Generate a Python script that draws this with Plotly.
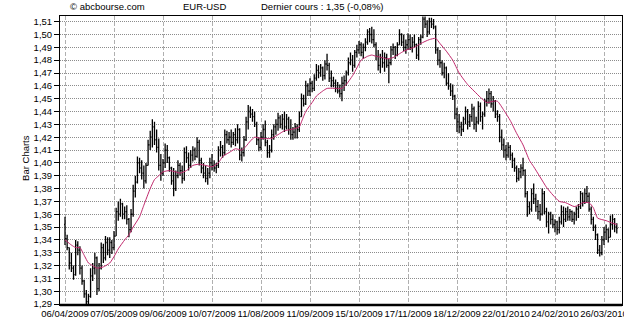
import plotly.graph_objects as go

# ---------------- data (EUR-USD daily bars, index = trading day) ----------------
DATE_TICKS = [0, 23, 46, 69, 92, 115, 138, 161, 184, 207, 230, 253]
DATE_LABELS = ["06/04/2009", "07/05/2009", "09/06/2009", "10/07/2009", "11/08/2009",
               "11/09/2009", "15/10/2009", "17/11/2009", "18/12/2009", "22/01/2010",
               "24/02/2010", "26/03/2010"]
Y_TICKS = [1.29, 1.30, 1.31, 1.32, 1.33, 1.34, 1.35, 1.36, 1.37, 1.38, 1.39, 1.40,
           1.41, 1.42, 1.43, 1.44, 1.45, 1.46, 1.47, 1.48, 1.49, 1.50, 1.51]
Y_LABELS = ["1,29", "1,30", "1,31", "1,32", "1,33", "1,34", "1,35", "1,36", "1,37", "1,38",
            "1,39", "1,40", "1,41", "1,42", "1,43", "1,44", "1,45", "1,46", "1,47", "1,48",
            "1,49", "1,50", "1,51"]

OPEN = [
    1.352,1.341,1.334,1.322,1.318,1.313,1.336,1.332,1.318,1.308,
    1.298,1.292,1.296,1.312,1.318,1.326,1.302,1.318,1.334,1.326,
    1.338,1.332,1.338,1.334,1.343,1.362,1.360,1.368,1.360,1.362,
    1.356,1.348,1.360,1.378,1.385,1.400,1.396,1.392,1.386,1.398,
    1.414,1.420,1.428,1.418,1.412,1.398,1.392,1.400,1.410,1.404,
    1.396,1.386,1.380,1.390,1.398,1.394,1.388,1.408,1.404,1.398,
    1.406,1.410,1.405,1.416,1.402,1.396,1.392,1.388,1.392,1.400,
    1.398,1.396,1.398,1.410,1.412,1.408,1.422,1.418,1.420,1.416,
    1.422,1.418,1.426,1.406,1.408,1.418,1.432,1.440,1.438,1.436,
    1.430,1.418,1.412,1.420,1.426,1.416,1.408,1.410,1.422,1.428,
    1.430,1.435,1.430,1.434,1.428,1.434,1.426,1.422,1.424,1.428,
    1.426,1.436,1.450,1.446,1.460,1.456,1.462,1.458,1.466,1.472,
    1.470,1.474,1.468,1.477,1.476,1.466,1.464,1.462,1.458,1.456,
    1.454,1.462,1.464,1.470,1.478,1.480,1.476,1.486,1.488,1.492,
    1.486,1.490,1.494,1.502,1.500,1.496,1.492,1.483,1.476,1.482,
    1.478,1.482,1.476,1.478,1.488,1.490,1.484,1.492,1.500,1.494,
    1.490,1.492,1.496,1.490,1.494,1.492,1.484,1.496,1.498,1.512,
    1.508,1.502,1.510,1.508,1.506,1.488,1.480,1.478,1.470,1.474,
    1.462,1.460,1.456,1.452,1.438,1.432,1.428,1.426,1.434,1.440,
    1.432,1.436,1.442,1.430,1.432,1.444,1.436,1.438,1.448,1.450,
    1.454,1.446,1.448,1.438,1.436,1.420,1.414,1.410,1.406,1.412,
    1.406,1.402,1.396,1.388,1.393,1.396,1.394,1.376,1.366,1.364,
    1.376,1.372,1.366,1.362,1.360,1.376,1.362,1.354,1.360,1.356,
    1.352,1.354,1.348,1.354,1.362,1.356,1.362,1.358,1.362,1.356,
    1.360,1.364,1.366,1.376,1.370,1.376,1.374,1.364,1.356,1.350,
    1.344,1.332,1.330,1.340,1.346,1.348,1.342,1.352,1.356,1.350,
]
HIGH = [
    1.358,1.344,1.334,1.330,1.320,1.340,1.339,1.335,1.320,1.309,
    1.301,1.298,1.318,1.322,1.330,1.327,1.322,1.338,1.337,1.343,
    1.342,1.342,1.340,1.347,1.365,1.370,1.372,1.369,1.366,1.367,
    1.357,1.364,1.383,1.390,1.405,1.404,1.402,1.398,1.400,1.418,
    1.425,1.434,1.432,1.426,1.419,1.407,1.403,1.415,1.414,1.405,
    1.397,1.396,1.394,1.402,1.400,1.398,1.412,1.413,1.408,1.410,
    1.413,1.412,1.420,1.418,1.404,1.400,1.398,1.396,1.404,1.407,
    1.402,1.400,1.413,1.417,1.414,1.426,1.425,1.424,1.426,1.424,
    1.427,1.430,1.427,1.412,1.421,1.436,1.445,1.444,1.442,1.440,
    1.432,1.420,1.424,1.430,1.433,1.418,1.414,1.426,1.430,1.434,
    1.439,1.437,1.438,1.440,1.438,1.436,1.434,1.428,1.431,1.430,
    1.440,1.454,1.453,1.464,1.462,1.466,1.464,1.469,1.477,1.476,
    1.477,1.475,1.480,1.485,1.478,1.472,1.467,1.465,1.463,1.461,
    1.467,1.468,1.472,1.482,1.486,1.484,1.488,1.492,1.495,1.494,
    1.493,1.497,1.504,1.505,1.506,1.504,1.494,1.488,1.485,1.488,
    1.486,1.485,1.481,1.491,1.493,1.491,1.494,1.504,1.501,1.500,
    1.496,1.501,1.500,1.498,1.500,1.493,1.498,1.500,1.514,1.514,
    1.511,1.513,1.513,1.512,1.507,1.490,1.488,1.480,1.478,1.475,
    1.470,1.462,1.461,1.453,1.443,1.438,1.432,1.436,1.444,1.442,
    1.438,1.446,1.444,1.436,1.448,1.447,1.440,1.450,1.456,1.458,
    1.456,1.452,1.449,1.441,1.438,1.426,1.419,1.414,1.416,1.414,
    1.408,1.404,1.398,1.396,1.399,1.404,1.395,1.378,1.370,1.380,
    1.384,1.376,1.371,1.368,1.380,1.378,1.365,1.362,1.362,1.360,
    1.356,1.355,1.358,1.367,1.366,1.365,1.366,1.364,1.363,1.362,
    1.366,1.368,1.378,1.377,1.380,1.382,1.377,1.366,1.358,1.352,
    1.345,1.336,1.343,1.350,1.352,1.349,1.359,1.360,1.357,1.353,
]
LOW = [
    1.336,1.332,1.317,1.315,1.309,1.312,1.328,1.313,1.305,1.295,
    1.289,1.289,1.295,1.308,1.313,1.297,1.300,1.317,1.322,1.324,
    1.328,1.326,1.329,1.332,1.343,1.355,1.358,1.356,1.356,1.352,
    1.342,1.346,1.358,1.373,1.384,1.392,1.387,1.380,1.384,1.398,
    1.410,1.412,1.414,1.408,1.394,1.386,1.390,1.396,1.400,1.393,
    1.383,1.374,1.378,1.388,1.390,1.384,1.386,1.400,1.394,1.396,
    1.401,1.402,1.404,1.398,1.392,1.388,1.385,1.383,1.388,1.394,
    1.393,1.392,1.396,1.405,1.404,1.406,1.415,1.414,1.412,1.414,
    1.413,1.415,1.402,1.401,1.405,1.417,1.426,1.435,1.432,1.428,
    1.414,1.409,1.410,1.418,1.413,1.404,1.404,1.408,1.418,1.422,
    1.425,1.427,1.426,1.424,1.426,1.422,1.418,1.418,1.419,1.419,
    1.424,1.436,1.444,1.445,1.452,1.452,1.455,1.456,1.464,1.466,
    1.467,1.464,1.465,1.472,1.463,1.459,1.459,1.455,1.454,1.451,
    1.448,1.456,1.460,1.468,1.476,1.471,1.474,1.482,1.485,1.483,
    1.481,1.487,1.492,1.494,1.493,1.490,1.480,1.472,1.470,1.474,
    1.471,1.474,1.462,1.476,1.484,1.481,1.483,1.492,1.491,1.487,
    1.485,1.488,1.488,1.486,1.490,1.481,1.480,1.492,1.497,1.505,
    1.498,1.500,1.505,1.504,1.485,1.476,1.474,1.468,1.466,1.460,
    1.457,1.452,1.449,1.434,1.424,1.423,1.421,1.424,1.430,1.426,
    1.428,1.432,1.426,1.424,1.430,1.432,1.426,1.436,1.444,1.446,
    1.443,1.440,1.435,1.432,1.416,1.410,1.404,1.402,1.404,1.402,
    1.396,1.393,1.385,1.386,1.388,1.390,1.373,1.358,1.360,1.362,
    1.368,1.362,1.356,1.355,1.359,1.360,1.350,1.345,1.352,1.349,
    1.346,1.344,1.345,1.352,1.350,1.354,1.355,1.355,1.354,1.352,
    1.355,1.357,1.364,1.366,1.368,1.369,1.362,1.352,1.347,1.340,
    1.329,1.327,1.328,1.336,1.340,1.338,1.342,1.348,1.346,1.345,
]
CLOSE = [
    1.341,1.334,1.322,1.318,1.313,1.336,1.332,1.318,1.308,1.298,
    1.292,1.296,1.312,1.318,1.326,1.302,1.318,1.334,1.326,1.338,
    1.332,1.338,1.334,1.343,1.362,1.360,1.368,1.360,1.362,1.356,
    1.348,1.360,1.378,1.385,1.400,1.396,1.392,1.386,1.398,1.414,
    1.420,1.428,1.418,1.412,1.398,1.392,1.400,1.410,1.404,1.396,
    1.386,1.380,1.390,1.398,1.394,1.388,1.408,1.404,1.398,1.406,
    1.410,1.405,1.416,1.402,1.396,1.392,1.388,1.392,1.400,1.398,
    1.396,1.398,1.410,1.412,1.408,1.422,1.418,1.420,1.416,1.422,
    1.418,1.426,1.406,1.408,1.418,1.432,1.440,1.438,1.436,1.430,
    1.418,1.412,1.420,1.426,1.416,1.408,1.410,1.422,1.428,1.430,
    1.435,1.430,1.434,1.428,1.434,1.426,1.422,1.424,1.428,1.426,
    1.436,1.450,1.446,1.460,1.456,1.462,1.458,1.466,1.472,1.470,
    1.474,1.468,1.477,1.476,1.466,1.464,1.462,1.458,1.456,1.454,
    1.462,1.464,1.470,1.478,1.480,1.476,1.486,1.488,1.492,1.486,
    1.490,1.494,1.502,1.500,1.496,1.492,1.483,1.476,1.482,1.478,
    1.482,1.476,1.478,1.488,1.490,1.484,1.492,1.500,1.494,1.490,
    1.492,1.496,1.490,1.494,1.492,1.484,1.496,1.498,1.512,1.508,
    1.502,1.510,1.508,1.506,1.488,1.480,1.478,1.470,1.474,1.462,
    1.460,1.456,1.452,1.438,1.432,1.428,1.426,1.434,1.440,1.432,
    1.436,1.442,1.430,1.432,1.444,1.436,1.438,1.448,1.450,1.454,
    1.446,1.448,1.438,1.436,1.420,1.414,1.410,1.406,1.412,1.406,
    1.402,1.396,1.388,1.393,1.396,1.394,1.376,1.366,1.364,1.376,
    1.372,1.366,1.362,1.360,1.376,1.362,1.354,1.360,1.356,1.352,
    1.354,1.348,1.354,1.362,1.356,1.362,1.358,1.362,1.356,1.360,
    1.364,1.366,1.376,1.370,1.376,1.374,1.364,1.356,1.350,1.344,
    1.332,1.330,1.340,1.346,1.348,1.342,1.352,1.356,1.350,1.349,
]

# moving average line, read at selected bar indices
MA_X = [0,3,5,7,9,11,13,15,18,21,23,25,28,30,32,35,37,40,42,44,
        46,49,52,54,57,60,63,66,69,72,74,77,80,83,85,87,89,92,94,97,
        100,103,106,110,111,113,116,118,121,123,128,130,132,135,137,139,142,144,146,149,
        151,154,157,159,162,164,167,171,174,176,179,182,185,189,192,195,198,201,203,206,
        209,212,215,218,220,223,226,229,232,235,239,241,243,246,248,250,254,257,259]
MA_Y = [1.340,1.336,1.334,1.334,1.328,1.322,1.320,1.318,1.319,1.322,
        1.327,1.333,1.340,1.344,1.350,1.358,1.367,1.380,1.387,1.390,
        1.393,1.394,1.393,1.392,1.394,1.398,1.399,1.398,1.397,1.400,
        1.405,1.408,1.411,1.410,1.413,1.417,1.420,1.419,1.419,1.419,
        1.422,1.425,1.426,1.428,1.432,1.440,1.447,1.452,1.456,1.458,
        1.458,1.458,1.461,1.468,1.474,1.480,1.483,1.484,1.483,1.482,
        1.481,1.482,1.485,1.487,1.489,1.490,1.493,1.496,1.497,1.493,
        1.487,1.480,1.470,1.461,1.456,1.451,1.447,1.448,1.448,1.441,
        1.433,1.423,1.414,1.402,1.397,1.389,1.381,1.375,1.370,1.369,
        1.366,1.367,1.369,1.369,1.365,1.357,1.355,1.353,1.352]

BAR_X = list(range(len(CLOSE)))

FONT = "Arial, 'Liberation Sans', sans-serif"

fig = go.Figure()
fig.add_trace(go.Ohlc(
    x=BAR_X, open=OPEN, high=HIGH, low=LOW, close=CLOSE,
    increasing=dict(line=dict(color="black", width=1.3)),
    decreasing=dict(line=dict(color="black", width=1.3)),
    tickwidth=0.45, showlegend=False, hoverinfo="skip",
))
fig.add_trace(go.Scatter(
    x=MA_X, y=MA_Y, mode="lines",
    line=dict(color="#C0286C", width=1, shape="spline", smoothing=0.5),
    showlegend=False, hoverinfo="skip",
))

fig.update_layout(
    width=624, height=320,
    margin=dict(l=60, r=2, t=16, b=15, pad=0, autoexpand=False),
    paper_bgcolor="white", plot_bgcolor="white",
    font=dict(family=FONT, size=9.5, color="black"),
    showlegend=False,
    xaxis=dict(
        range=[-2.35, 261.45], tickvals=DATE_TICKS, ticktext=DATE_LABELS,
        tickangle=0, automargin=False, ticklabeloverflow="allow",
        showgrid=True, gridcolor="#B0B0B0", gridwidth=1, griddash="4px,2px",
        ticks="", tickfont=dict(size=9.5, color="black"),
        showline=True, linecolor="black", linewidth=1, mirror=True,
        zeroline=False, rangeslider=dict(visible=False), fixedrange=True,
    ),
    yaxis=dict(
        range=[1.2893, 1.5144], tickvals=Y_TICKS, ticktext=Y_LABELS,
        automargin=False, ticklabeloverflow="allow",
        showgrid=True, gridcolor="#8C8C8C", gridwidth=1, griddash="1px,1px",
        ticks="outside", ticklen=5, tickcolor="black", tickwidth=1,
        tickfont=dict(size=9.5, color="black"),
        showline=True, linecolor="black", linewidth=1, mirror=True,
        zeroline=False, fixedrange=True,
    ),
)

# thick bottom frame line
fig.add_shape(type="line", xref="paper", yref="paper", x0=0, x1=1, y0=0, y1=0,
              line=dict(color="black", width=2.5), layer="above")

ann_font = dict(family=FONT, size=9.5, color="black")
fig.add_annotation(text="© abcbourse.com", xref="paper", yref="paper",
                   x=0.0142, y=1.0346, xanchor="left", yanchor="middle",
                   showarrow=False, font=ann_font)
fig.add_annotation(text="EUR-USD", xref="paper", yref="paper",
                   x=0.2153, y=1.0346, xanchor="left", yanchor="middle",
                   showarrow=False, font=ann_font)
fig.add_annotation(text="Dernier cours : 1,35 (-0,08%)", xref="paper", yref="paper",
                   x=0.3541, y=1.0346, xanchor="left", yanchor="middle",
                   showarrow=False, font=ann_font)
fig.add_annotation(text="Bar Charts", xref="paper", yref="paper",
                   x=-0.0605, y=0.509, xanchor="center", yanchor="middle",
                   textangle=-90, showarrow=False, font=ann_font)

fig.write_html("out.html")
